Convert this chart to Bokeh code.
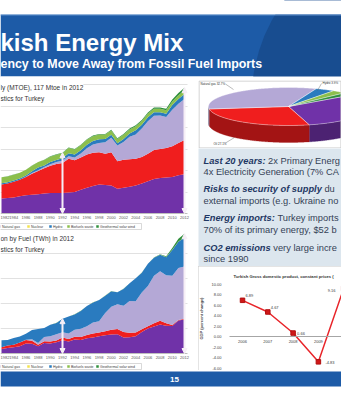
import math
from bokeh.plotting import figure
from bokeh.layouts import column, row
from bokeh.models import (ColumnDataSource, Range1d, FixedTicker, Grid, LinearAxis, Arrow,
                          NormalHead, Label, PrintfTickFormatter)
from bokeh.core.properties import value
from bokeh.embed import file_html
from bokeh.resources import INLINE

FONT = "Liberation Sans"

# ------------------------------------------------------------------ data
years = list(range(1982, 2013))
series = ["Coal", "Oil", "Natural gas", "Nuclear", "Hydro", "Biofuels waste", "Geothermal solar wind"]
colors = ["#7032a8", "#f01e1e", "#b4a8d6", "#f2e24e", "#2a7bbf", "#8cbf4c", "#2f8f3c"]

# Primary energy supply (Mtoe)
tpes_coal = [14.0, 14.5, 15.0, 16.0, 17.0, 17.5, 18.0, 18.5, 19.0, 19.0, 19.0, 19.5, 20.0, 22.0, 24.0, 25.5,
             27.0, 26.5, 26.0, 23.0, 24.0, 25.0, 26.0, 28.0, 30.0, 32.0, 33.0, 33.5, 34.0, 35.5, 36.6]
tpes_oil = [13.0, 13.5, 14.5, 15.5, 17.0, 19.5, 21.5, 23.5, 25.5, 27.0, 28.0, 31.5, 29.5, 30.0, 31.0, 31.0,
            30.0, 29.0, 31.0, 25.5, 26.0, 25.5, 25.0, 24.5, 25.5, 27.0, 27.0, 27.5, 28.5, 30.0, 31.7]
tpes_gas = [0, 0, 0, 0, 0.3, 0.6, 0.8, 1.2, 1.4, 1.8, 2.0, 2.2, 2.7, 3.9, 5.6, 7.6,
            8.5, 10.7, 13.5, 14.7, 16.4, 20.9, 22.5, 26.6, 30.2, 32.0, 31.2, 28.7, 34.0, 36.6, 38.3]
tpes_nuclear = [0, 0, 0, 0, 0, 0, 0, 0, 0, 0, 0, 0, 0, 0, 0, 0,
                0, 0, 0, 0, 0, 0, 0, 0, 0, 0, 0, 0, 0, 0, 0]
tpes_hydro = [1.1, 1.0, 1.2, 1.0, 1.0, 1.6, 2.4, 1.5, 2.0, 2.0, 2.3, 2.9, 2.6, 3.0, 3.4, 3.4,
              3.6, 3.0, 2.7, 2.1, 2.9, 3.0, 3.9, 3.4, 3.8, 3.1, 2.9, 3.1, 4.5, 4.5, 4.6]
tpes_bio = [5.6, 5.5, 5.4, 5.4, 5.3, 5.3, 5.2, 5.1, 5.0, 4.9, 4.8, 4.8, 4.7, 4.6, 4.5, 4.4,
            4.3, 4.2, 4.1, 4.0, 3.9, 3.8, 3.7, 3.6, 3.5, 3.4, 3.3, 3.3, 3.3, 3.3, 3.3]
tpes_geo = [0.1, 0.1, 0.1, 0.1, 0.1, 0.1, 0.1, 0.2, 0.4, 0.4, 0.5, 0.5, 0.5, 0.5, 0.5, 0.6,
            0.6, 0.6, 0.7, 0.7, 0.8, 0.8, 0.9, 0.9, 1.0, 1.0, 1.1, 1.4, 1.7, 2.1, 2.5]

# Electricity generation (TWh)
elec_coal = [8.9, 10.8, 12.4, 14.3, 19.8, 19.3, 14.6, 21.0, 20.2, 22.6, 26.6, 23.8, 28.0, 27.0, 30.6, 32.0,
             34.3, 36.4, 38.2, 38.4, 32.1, 32.3, 34.4, 43.2, 50.1, 53.9, 58.1, 55.6, 55.0, 66.2, 68.0]
elec_oil = [3.6, 5.0, 5.0, 7.6, 7.4, 6.4, 3.0, 3.7, 3.9, 3.3, 5.3, 5.2, 5.5, 5.8, 6.5, 8.0,
            7.9, 8.1, 9.3, 10.4, 10.7, 9.2, 7.7, 5.5, 4.3, 6.5, 7.5, 4.8, 2.2, 0.9, 1.6]
elec_gas = [0, 0, 0, 0.1, 0.5, 2.7, 3.2, 8.5, 10.2, 12.6, 10.8, 10.8, 13.8, 16.6, 17.2, 22.2,
            22.4, 36.3, 46.2, 49.5, 52.5, 63.5, 62.2, 73.4, 80.7, 95.0, 98.7, 96.1, 98.1, 104.0, 104.5]
elec_nuclear = [0, 0, 0, 0, 0, 0, 0, 0, 0, 0, 0, 0, 0, 0, 0, 0,
                0, 0, 0, 0, 0, 0, 0, 0, 0, 0, 0, 0, 0, 0, 0]
elec_hydro = [14.2, 11.3, 13.4, 12.0, 11.9, 18.6, 28.0, 18.0, 23.1, 22.7, 26.6, 34.0, 30.6, 35.5, 40.5, 39.8,
              42.2, 34.7, 30.9, 24.0, 33.7, 35.3, 46.1, 39.6, 44.2, 35.9, 33.3, 36.0, 51.8, 52.3, 57.9]
elec_bio = [0, 0, 0, 0, 0, 0, 0, 0, 0.2, 0.2, 0.2, 0.2, 0.3, 0.3, 0.3, 0.3,
            0.3, 0.3, 0.2, 0.2, 0.2, 0.1, 0.1, 0.1, 0.2, 0.2, 0.2, 0.3, 0.5, 0.5, 0.7]
elec_geo = [0, 0, 0, 0, 0, 0, 0, 0, 0.1, 0.1, 0.1, 0.1, 0.1, 0.1, 0.1, 0.1,
            0.1, 0.1, 0.1, 0.1, 0.1, 0.1, 0.1, 0.1, 0.2, 0.4, 0.9, 1.9, 3.6, 5.4, 6.8]

# 2012 primary energy shares (%)
pie_shares = [31.3, 27.1, 32.7, 0.0, 3.9, 2.8, 2.2]

# GDP growth (%)
gdp_years = [2006, 2007, 2008, 2009, 2010]
gdp_growth = [6.89, 4.67, 0.66, -4.83, 9.16]

arrow_years = [1992, 2012]
axis_years = [1982, 1984, 1986, 1988, 1990, 1992, 1994, 1996, 1998, 2000, 2002, 2004, 2006, 2008, 2010, 2012]
gdp_ticks = [-6, -4, -2, 0, 2, 4, 6, 8, 10]

# ------------------------------------------------------------------ style
BLUE = "#1d5ba7"
BLUE_DARK = "#184d90"
GRID = "#d9d9d9"
ARROW = "#f6eef6"
TB_BG = "#dce6ee"
RED = "#e8252a"


def mkfig(w, h, xr, yr, bg="white", **kw):
    p = figure(width=w, height=h, x_range=xr, y_range=yr, output_backend="svg",
               toolbar_location=None, x_axis_type=None, y_axis_type=None,
               min_border_left=0, min_border_right=0, min_border_top=0,
               min_border_bottom=0, **kw)
    p.outline_line_color = None
    p.background_fill_color = bg
    p.border_fill_color = "white"
    return p


# ------------------------------------------------------------------ header
hdr = mkfig(341, 80, Range1d(0, 341), Range1d(80, 0))
hdr.quad(left=0, right=341, top=14, bottom=76, fill_color=BLUE, line_color=None)
hdr.ellipse(x=420, y=100, width=338, height=338, fill_color=BLUE_DARK, line_color=None)
hdr.quad(left=0, right=341, top=0, bottom=14, fill_color="white", line_color=None)
hdr.quad(left=0, right=341, top=76, bottom=80, fill_color="white", line_color=None)
hdr.quad(left=0, right=341, top=14, bottom=15, fill_color="#5f8fcc", line_color=None)
hdr.text(x=[0], y=[42], text=["kish Energy Mix"], text_font=value(FONT), text_font_size="24px",
         text_font_style="bold", text_color="white", text_baseline="alphabetic")
hdr.text(x=[0], y=[63], text=["ency to Move Away from Fossil Fuel Imports"], text_font=value(FONT),
         text_font_size="12.4px", text_font_style="bold", text_color="white", text_baseline="alphabetic")

# ------------------------------------------------------------------ area charts
PX_PER_YEAR = 6.1
X_START = 1982 - 1.0 / PX_PER_YEAR
FRAME_W = 187
X_PLOT_END = X_START + FRAME_W / PX_PER_YEAR
X_END = X_START + 198 / PX_PER_YEAR


def xpx(px):
    return X_START + px / PX_PER_YEAR


def area_chart(height, zero_px, ppu, grid_ticks, layers, title1, title2, legend_px):
    y_max = zero_px / ppu
    y_min = -(height - zero_px) / ppu
    p = mkfig(198, height, Range1d(X_START, X_END), Range1d(y_min, y_max))
    p.add_layout(Grid(dimension=1, ticker=FixedTicker(ticks=grid_ticks),
                      grid_line_color=GRID, grid_line_width=0.8))
    data = {"year": years}
    for n, v in zip(series, layers):
        data[n] = v
    src = ColumnDataSource(data)
    p.varea_stack(stackers=series, x="year", color=colors, source=src)
    # blank margin right of the plot area
    p.quad(left=X_PLOT_END, right=X_END, bottom=y_min, top=y_max, fill_color="white", line_color=None)

    ax = LinearAxis(ticker=FixedTicker(ticks=axis_years), fixed_location=0,
                    bounds=(X_START, X_PLOT_END))
    ax.major_label_text_font_size = "4px"
    ax.major_label_text_font = FONT
    ax.major_label_text_color = "#595959"
    ax.major_label_standoff = 2
    ax.major_tick_out = 0
    ax.major_tick_in = 0
    ax.minor_tick_line_color = None
    ax.axis_line_color = "#bfbfbf"
    p.add_layout(ax, "below")

    totals = [sum(v) for v in zip(*layers)]
    for yr in arrow_years:
        i = years.index(yr)
        p.add_layout(Arrow(x_start=yr, y_start=0, x_end=yr, y_end=totals[i],
                           line_color=ARROW, line_width=2,
                           start=NormalHead(size=5, fill_color=ARROW, line_color=ARROW),
                           end=NormalHead(size=5, fill_color=ARROW, line_color=ARROW)))
    for txt, py in ((title1, 7.0), (title2, 17.5)):
        p.add_layout(Label(x=X_START, y=y_max - py / ppu, text=txt, text_font=FONT,
                           text_font_size="6.5px", text_color="#333333", text_baseline="middle",
                           text_align="left", background_fill_color="white"))
    # legend row (series from Natural gas on; Coal and Oil lie left of the crop)
    yl = y_max - legend_px / ppu
    p.quad(left=xpx(-1), right=xpx(141), top=yl + 3 / ppu, bottom=yl - 3 / ppu,
           fill_color="white", line_color="#c8c8c8", line_width=0.7)
    names = series[2:]
    cols = colors[2:]
    lx = [xpx(v) for v in (-1, 28, 50, 68, 97)]
    p.scatter(x=lx, y=[yl] * len(lx), marker="square", size=2.5, fill_color=cols, line_color=None)
    p.text(x=[v + 2.5 / PX_PER_YEAR for v in lx], y=[yl] * len(lx), text=names, text_font=value(FONT),
           text_font_size="3.5px", text_color="#404040", text_baseline="middle")
    return p


tpes_layers = [tpes_coal, tpes_oil, tpes_gas, tpes_nuclear, tpes_hydro, tpes_bio, tpes_geo]
elec_layers = [elec_coal, elec_oil, elec_gas, elec_nuclear, elec_hydro, elec_bio, elec_geo]

top_chart = area_chart(151, 133, 1.075, [20, 40, 60, 80, 100, 120], tpes_layers,
                       "ly (MTOE), 117 Mtoe in 2012", "stics for Turkey", 146)
bot_chart = area_chart(139, 122, 0.5, [50, 100, 150, 200], elec_layers,
                       "on by Fuel (TWh) in 2012", "stics for Turkey", 135)

# ------------------------------------------------------------------ 3D pie
pie = mkfig(143, 68, Range1d(0, 143), Range1d(68, 0))
CX, CY, RX, RY, DEPTH, START = 90.0, 26.0, 80.0, 19.0, 17.0, 37.7


def darker(h, f=0.68):
    r, g_, b = int(h[1:3], 16), int(h[3:5], 16), int(h[5:7], 16)
    return "#%02x%02x%02x" % (int(r * f), int(g_ * f), int(b * f))


def ex(t):
    return CX + RX * math.cos(math.radians(t))


def ey(t):
    return CY - RY * math.sin(math.radians(t))


side_xs, side_ys, side_c, top_xs, top_ys, top_c = [], [], [], [], [], []
cur = START
for share, col in zip(pie_shares, colors):
    if share <= 0:
        continue
    span = share / 100.0 * 360.0
    a0, a1 = cur, cur - span
    cur = a1
    n = max(4, int(span * 2))
    ts = [a0 + (a1 - a0) * k / n for k in range(n + 1)]
    top_xs.append([CX] + [ex(t) for t in ts])
    top_ys.append([CY] + [ey(t) for t in ts])
    top_c.append(col)
    runs, run = [], []
    for t in ts:
        if math.sin(math.radians(t)) <= 1e-9:
            run.append(t)
        else:
            if len(run) > 1:
                runs.append(run)
            run = []
    if len(run) > 1:
        runs.append(run)
    for r in runs:
        side_xs.append([ex(t) for t in r] + [ex(t) for t in reversed(r)])
        side_ys.append([ey(t) for t in r] + [ey(t) + DEPTH for t in reversed(r)])
        side_c.append(darker(col))

pie.patches(xs=side_xs, ys=side_ys, fill_color=side_c, line_color=side_c, line_width=0.3)
pie.patches(xs=top_xs, ys=top_ys, fill_color=top_c, line_color="white", line_width=0.4)
pie_labels = [f"{series[2]} {pie_shares[2]}%", f"{series[1]} {pie_shares[1]}%", f"{series[4]} {pie_shares[4]}%"]
pie.text(x=[2, 15, 124], y=[3.5, 63, 2.5], text=pie_labels, text_font=value(FONT),
         text_font_size="3px", text_color="#333333", text_baseline="middle")
pie.multi_line(xs=[[27, 35], [27, 36], [123, 119]], ys=[[3.5, 9], [62.5, 57], [3, 10]],
               line_color="#555555", line_width=0.4)
pie.quad(left=0.5, right=142.5, top=0.5, bottom=67.5, fill_color=None, line_color="#c8c8c8", line_width=1)

# ------------------------------------------------------------------ text box
tb = mkfig(143, 118, Range1d(0, 143), Range1d(118, 0), bg=TB_BG)
BOLD_W = {' ': 278, 'L': 611, 'a': 556, 's': 556, 't': 333, '2': 556, '0': 556, 'y': 556, 'e': 556,
          'r': 389, ':': 333, 'R': 722, 'i': 278, 'k': 556, 'o': 611, 'c': 556, 'u': 611, 'f': 333,
          'p': 611, 'l': 278, 'E': 667, 'n': 611, 'g': 611, 'm': 889, 'C': 722, 'O': 778}
FS = 9.3
tb_lines = [("Last 20 years:", "2x Primary Energ"),
            ("", "4x Electricity Generation (7% CA"),
            ("Risks to security of supply", "du"),
            ("", "external imports (e.g. Ukraine no"),
            ("Energy imports:", "Turkey imports"),
            ("", "70% of its primary energy, $52 b"),
            ("CO2 emissions", "very large incre"),
            ("", "since 1990")]
tb_y = [12, 23, 40, 52, 69, 81, 99, 110]
bx, by, bt, rx_, ry_, rt = [], [], [], [], [], []
for (pre, suf), yc in zip(tb_lines, tb_y):
    x = 5.0
    if pre:
        bx.append(x); by.append(yc); bt.append(pre)
        x += (sum(BOLD_W.get(ch, 556) for ch in pre) + 278) / 1000.0 * FS
    rx_.append(x); ry_.append(yc); rt.append(suf)
tb.text(x=bx, y=by, text=bt, text_font=value(FONT), text_font_size=f"{FS}px",
        text_font_style="bold italic", text_color="#1f3864", text_baseline="middle")
tb.text(x=rx_, y=ry_, text=rt, text_font=value(FONT), text_font_size=f"{FS}px",
        text_color="#354256", text_baseline="middle")

# ------------------------------------------------------------------ GDP chart
G_PX_YEAR = 25.3
G_PX_UNIT = 5.25
gx0 = 2006 - 44 / G_PX_YEAR
g = mkfig(143, 104, Range1d(gx0, gx0 + 143 / G_PX_YEAR), Range1d(-34 / G_PX_UNIT, 70 / G_PX_UNIT),
          styles={"outline": "1px solid #c8c8c8", "outline-offset": "-1px"})
yax = LinearAxis(ticker=FixedTicker(ticks=gdp_ticks), formatter=PrintfTickFormatter(format="%.2f"),
                 axis_label="GDP (percent change)", fixed_location=2006 - 13 / G_PX_YEAR)
yax.axis_line_color = None
yax.major_tick_line_color = None
yax.minor_tick_line_color = None
yax.major_label_text_font_size = "4px"
yax.major_label_text_font = FONT
yax.major_label_text_color = "#404040"
yax.major_label_standoff = 2
yax.axis_label_text_font_size = "4px"
yax.axis_label_text_font = FONT
yax.axis_label_text_font_style = "bold"
yax.axis_label_text_color = "#404040"
yax.axis_label_standoff = 4
g.add_layout(yax, "left")
xax = LinearAxis(ticker=FixedTicker(ticks=gdp_years), fixed_location=0,
                 bounds=(2006 - 13 / G_PX_YEAR, gx0 + 143 / G_PX_YEAR))
xax.axis_line_color = "#a6a6a6"
xax.major_tick_out = 0
xax.major_tick_in = 0
xax.minor_tick_line_color = None
xax.major_label_text_font_size = "4px"
xax.major_label_text_font = FONT
xax.major_label_text_color = "#404040"
xax.major_label_standoff = 3
g.add_layout(xax, "below")
g.line(gdp_years, gdp_growth, line_color=RED, line_width=1.5)
g.scatter(gdp_years, gdp_growth, marker="square", size=4.5, fill_color="#d01818", line_color="#b01010")
g.text(x=gdp_years, y=gdp_growth, text=[f"{v:.2f}" for v in gdp_growth],
       x_offset=[3, 3, 4, 7, -16], y_offset=[-5, -4.5, 0, 1, 2], text_font=value(FONT),
       text_font_size="4px", text_color="#404040", text_baseline="middle")
g.text(x=[2006 - 9 / G_PX_YEAR], y=[60 / G_PX_UNIT], text=["Turkish Gross domestic product, constant prices ("],
       text_font=value(FONT), text_font_size="4.2px", text_font_style="bold", text_color="#333333",
       text_baseline="middle")

# ------------------------------------------------------------------ footer
ft = mkfig(341, 30, Range1d(0, 341), Range1d(30, 0))
ft.quad(left=0, right=341, top=1, bottom=16, fill_color=BLUE, line_color=None)
ft.text(x=[174], y=[8.5], text=["15"], text_font=value(FONT), text_font_size="8px",
        text_font_style="bold", text_color="white", text_align="center", text_baseline="middle")

left = column(top_chart, bot_chart, spacing=0)
right = column(pie, tb, g, spacing=0)
body = row(left, right, spacing=0)
page = column(hdr, body, ft, spacing=0)

open("out.html", "w").write(file_html(page, INLINE))
